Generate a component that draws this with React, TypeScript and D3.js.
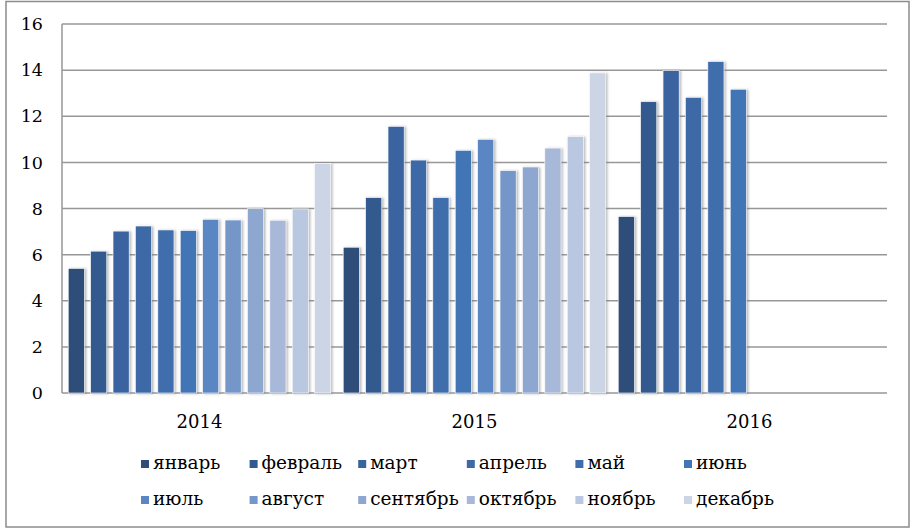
import React from "react";
import * as d3 from "d3";

const years = ["2014", "2015", "2016"];
const months = ["январь", "февраль", "март", "апрель", "май", "июнь", "июль", "август", "сентябрь", "октябрь", "ноябрь", "декабрь"];
const values2014 = [5.4, 6.15, 7.02, 7.24, 7.07, 7.04, 7.53, 7.5, 7.99, 7.49, 7.98, 9.96];
const values2015 = [6.32, 8.47, 11.56, 10.1, 8.47, 10.52, 11.0, 9.64, 9.8, 10.62, 11.12, 13.88];
const values2016 = [7.65, 12.63, 13.98, 12.82, 14.37, 13.17, null, null, null, null, null, null];
const monthColors = ["#2E4D78", "#335A8E", "#3A64A0", "#3D69A6", "#3F6DAC", "#4374B6", "#5A86C4", "#7496C9", "#8EA7D0", "#A7B8D8", "#B9C7E0", "#CCD5E6"];
const yTicks = [0, 2, 4, 6, 8, 10, 12, 14, 16];

const seriesByYear: (number | null)[][] = [values2014, values2015, values2016];

export default function App() {
  const W = 920, H = 531;
  const left = 62, right = 887, top = 24, bottom = 393;
  const x0 = d3.scaleBand<string>().domain(years).range([left, right]).paddingInner(0.0225).paddingOuter(0.01125);
  const x1 = d3.scaleBand<string>().domain(months).range([0, x0.bandwidth()]).paddingInner(0.28).paddingOuter(0.14);
  const y = d3.scaleLinear().domain([0, 16]).range([bottom, top]);
  const font = "'DejaVu Serif', serif";

  return (
    <svg width={W} height={H} style={{ position: "absolute", left: 0, top: 0, background: "#fff" }}>
      <defs>
        <filter id="sh" x="-30%" y="-10%" width="160%" height="120%">
          <feDropShadow dx="1.5" dy="0.5" stdDeviation="0.9" floodColor="#777" floodOpacity="0.55" />
        </filter>
      </defs>
      <rect x={6} y={1.5} width={903} height={525.5} fill="#fff" stroke="#8c8c8c" strokeWidth={1.5} />
      {yTicks.map((t) => (
        <g key={t}>
          <line x1={left} x2={right} y1={y(t)} y2={y(t)} stroke="#979797" strokeWidth={1.5} />
          <text x={43} y={y(t)} dy="0.35em" textAnchor="end" fontFamily={font} fontSize={17.5} fill="#000">{t}</text>
        </g>
      ))}
      <line x1={left} x2={left} y1={top} y2={bottom} stroke="#979797" strokeWidth={1.5} />
      {years.map((yr, gi) => (
        <g key={yr} transform={`translate(${x0(yr)},0)`}>
          {seriesByYear[gi].map((v, mi) =>
            v == null ? null : (
              <rect
                key={mi}
                x={x1(months[mi])}
                y={y(v)}
                width={x1.bandwidth()}
                height={y(0) - y(v)}
                fill={monthColors[mi]}
                stroke="#fff"
                strokeWidth={0.6}
                filter="url(#sh)"
              />
            )
          )}
          <text x={x0.bandwidth() / 2} y={428} textAnchor="middle" fontFamily={font} fontSize={18} fill="#000">{yr}</text>
        </g>
      ))}
      {months.map((m, i) => {
        const col = i % 6;
        const row = Math.floor(i / 6);
        const lx = 141 + col * 108.6;
        const ly = row === 0 ? 469 : 505;
        return (
          <g key={m}>
            <rect x={lx} y={ly - 9} width={8} height={8} fill={monthColors[i]} />
            <text x={lx + 12} y={ly} fontFamily={font} fontSize={18.5} fill="#000">{m}</text>
          </g>
        );
      })}
    </svg>
  );
}
